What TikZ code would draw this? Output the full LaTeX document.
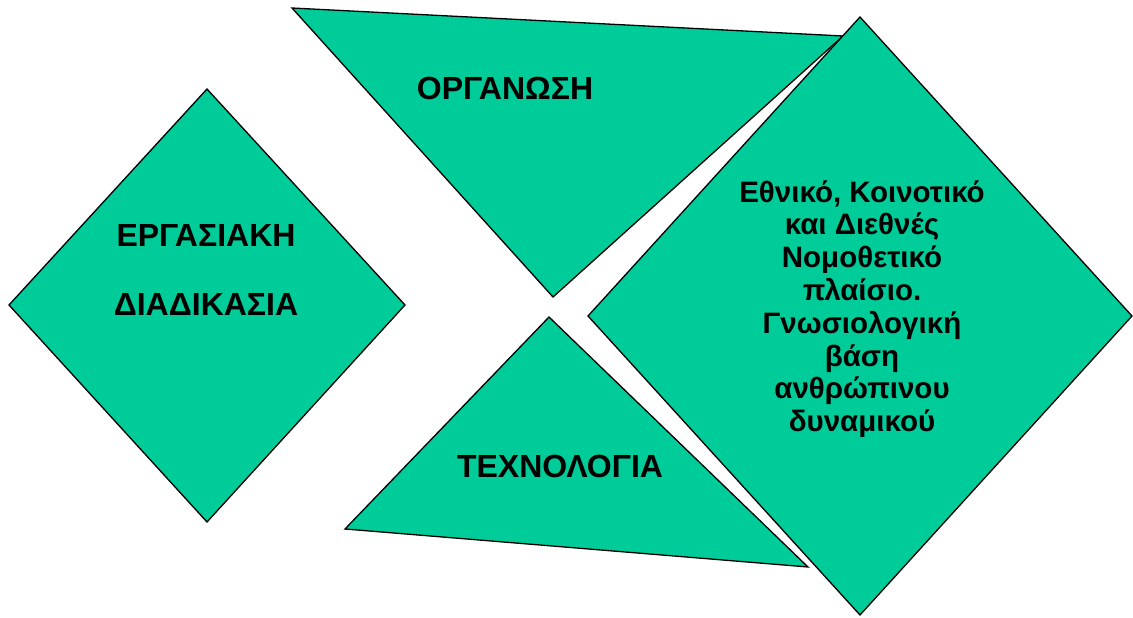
\documentclass[tikz,border=0pt]{standalone}
\usepackage{fontspec}
\setmainfont{Liberation Sans}
\definecolor{panelgreen}{HTML}{00CC99}

\begin{document}
\begin{tikzpicture}[x=1pt, y=-1pt, piece/.style={fill=panelgreen, draw=black, line width=1.3pt, line join=miter}, word/.style={font=\bfseries\fontsize{32}{38}\selectfont, inner sep=0pt, align=center}, para/.style={font=\bfseries\fontsize{29.5}{32.8}\selectfont, inner sep=0pt, align=center}]
            \useasboundingbox (0,0) rectangle (1133,618);
            % corners of the four pieces
            \coordinate (ln) at (207,89);  \coordinate (lw) at (9,305);  \coordinate (ls) at (207,522);  \coordinate (le) at (405,305);
            \coordinate (tl) at (292,8);   \coordinate (tr) at (843,36); \coordinate (tb) at (553,297);
            \coordinate (bt) at (549,317); \coordinate (bl) at (345,529); \coordinate (br) at (808,567);
            \coordinate (rn) at (860,17);  \coordinate (rw) at (588,316); \coordinate (rs) at (860,615); \coordinate (re) at (1132,316);
            \draw[piece] (ln) -- (lw) -- (ls) -- (le) -- cycle;
            \draw[piece] (tl) -- (tr) -- (tb) -- cycle;
            \draw[piece] (bt) -- (bl) -- (br) -- cycle;
            \draw[piece] (rn) -- (rw) -- (rs) -- (re) -- cycle;
            \node[word] (work) at (206,270) {ΕΡΓΑΣΙΑΚΗ\\[31pt]ΔΙΑΔΙΚΑΣΙΑ};
            \node[word] (org) at (505,88) {ΟΡΓΑΝΩΣΗ};
            \node[word] (tech) at (560,466) {ΤΕΧΝΟΛΟΓΙΑ};
            \node[para] (law) at (862,309) {Εθνικό, Κοινοτικό\\και Διεθνές\\Νομοθετικό\\πλαίσιο.\\Γνωσιολογική\\βάση\\ανθρώπινου\\δυναμικού};
        \end{tikzpicture}
\end{document}
